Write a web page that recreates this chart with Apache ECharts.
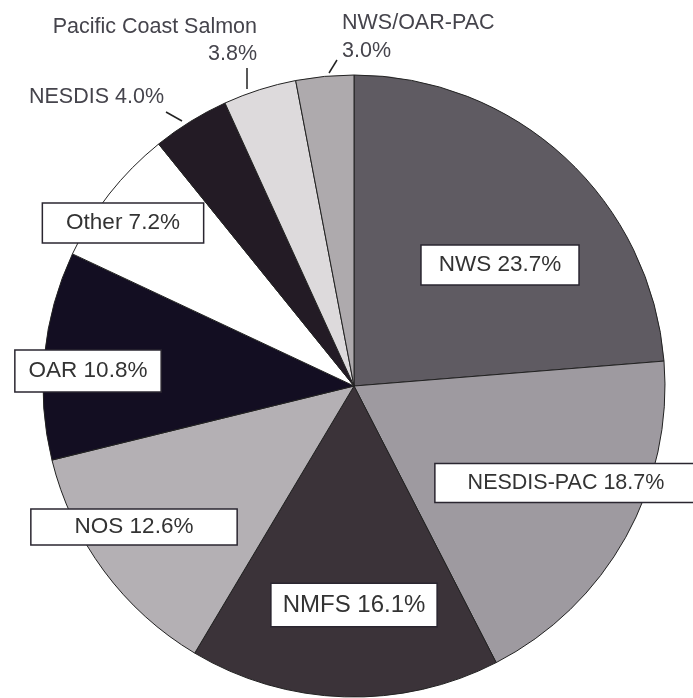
<!DOCTYPE html>
<html>
<head>
<meta charset="utf-8">
<script src="https://cdn.jsdelivr.net/npm/echarts@6/dist/echarts.min.js"></script>
<style>
  html, body { margin: 0; padding: 0; background: #fff; }
  #main { width: 693px; height: 698px; }
</style>
</head>
<body>
<div id="main"></div>
<script>
var chartDom = document.getElementById('main');
var myChart = echarts.init(chartDom);

// 数据（顺时针，从12点方向开始）
const categories = ['NWS', 'NESDIS-PAC', 'NMFS', 'NOS', 'OAR', 'Other', 'NESDIS', 'Pacific Coast Salmon', 'NWS/OAR-PAC'];
const shares = [23.7, 18.7, 16.1, 12.6, 10.8, 7.2, 4.0, 3.8, 3.0];

const sliceColors = ['#5f5b62', '#9e9aa0', '#3b3339', '#b4b0b4', '#130e22', '#ffffff', '#231b25', '#dddadc', '#aeaaad'];

const fontFamily = "'Liberation Sans', Arial, Helvetica, sans-serif";

// 带框标签
function boxLabel(size, pad) {
    return {
        fontSize: size,
        lineHeight: size + 2,
        color: '#333',
        fontFamily: fontFamily,
        backgroundColor: '#fff',
        borderColor: '#2a2630',
        borderWidth: 1.5,
        padding: pad,
        formatter: p => p.name + ' ' + p.value.toFixed(1) + '%'
    };
}
// 外部标签
function outLabel(fmt, lh) {
    return {
        fontSize: 21.5,
        lineHeight: lh,
        color: '#45444c',
        fontFamily: fontFamily,
        formatter: fmt
    };
}

const labelStyles = [
    boxLabel(22.5, [7, 17]),
    boxLabel(21.5, [7, 32]),
    boxLabel(24, [8, 11]),
    boxLabel(22.5, [5, 43]),
    boxLabel(22.5, [8, 13]),
    boxLabel(22.5, [7, 23]),
    outLabel(p => p.name + ' ' + p.value.toFixed(1) + '%', 22),
    outLabel(p => p.name + '\n' + p.value.toFixed(1) + '%', 27),
    outLabel(p => p.name + '\n' + p.value.toFixed(1) + '%', 28)
];

// 标签位置
const labelPlaces = [
    { x: 500, y: 265, align: 'center', verticalAlign: 'middle' },
    { x: 566, y: 483, align: 'center', verticalAlign: 'middle' },
    { x: 354, y: 605, align: 'center', verticalAlign: 'middle' },
    { x: 134, y: 527, align: 'center', verticalAlign: 'middle' },
    { x: 88, y: 371, align: 'center', verticalAlign: 'middle' },
    { x: 123, y: 223, align: 'center', verticalAlign: 'middle' },
    { x: 164, y: 97, align: 'right', verticalAlign: 'middle',
      labelLinePoints: [[182, 121], [166, 112], [166, 112]] },
    { x: 257, y: 41, align: 'right', verticalAlign: 'middle',
      labelLinePoints: [[247, 89], [247, 68], [247, 68]] },
    { x: 342, y: 37, align: 'left', verticalAlign: 'middle',
      labelLinePoints: [[329, 73], [337, 60], [337, 60]] }
];

const pieData = categories.map((name, i) => ({
    name,
    value: shares[i],
    itemStyle: { color: sliceColors[i] },
    label: labelStyles[i],
    labelLine: { show: i >= 6, lineStyle: { color: '#222', width: 1.5 } }
}));

var option = {
    backgroundColor: '#fff',
    animation: false,
    series: [
        {
            type: 'pie',
            center: [354, 386],
            radius: 311,
            startAngle: 90,
            clockwise: true,
            avoidLabelOverlap: false,
            itemStyle: {
                borderColor: '#222',
                borderWidth: 1
            },
            label: { show: true, position: 'outside' },
            labelLayout: function (params) {
                return labelPlaces[params.dataIndex];
            },
            emphasis: { disabled: true },
            data: pieData
        }
    ]
};

myChart.setOption(option);
</script>
</body>
</html>
